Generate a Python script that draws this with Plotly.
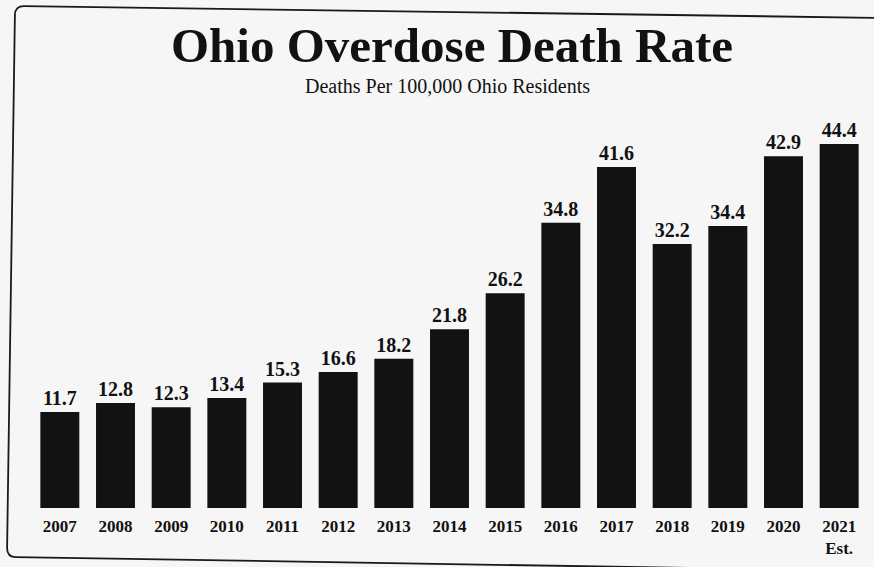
import plotly.graph_objects as go

years = ["2007", "2008", "2009", "2010", "2011", "2012", "2013", "2014",
         "2015", "2016", "2017", "2018", "2019", "2020", "2021"]
tick_labels = ["2007", "2008", "2009", "2010", "2011", "2012", "2013", "2014",
               "2015", "2016", "2017", "2018", "2019", "2020", "2021<br>Est."]
rates = [11.7, 12.8, 12.3, 13.4, 15.3, 16.6, 18.2, 21.8,
         26.2, 34.8, 41.6, 32.2, 34.4, 42.9, 44.4]

W, H = 874, 567
ml, mr, mt, mb = 32, 7, 98, 59
pw, ph = W - ml - mr, H - mt - mb

def pp(x, y):
    return (x - ml) / pw, (H - mb - y) / ph

fig = go.Figure()
fig.add_trace(go.Bar(
    x=years, y=rates,
    marker=dict(color="#121212", line=dict(width=0)),
    text=[f"{v:.1f}" for v in rates],
    textposition="outside",
    textfont=dict(family="Liberation Serif", size=20, color="#111"),
    texttemplate="<b>%{text}</b>",
    cliponaxis=False,
    width=0.7,
))

# slightly tilted rounded frame (scanned page)
r = 9
TL = (15, 6)
TR = (890, 18)
BR = (882, 571)
BL = (7, 557)
pts = [
    pp(TL[0] + r, TL[1] + 0.13),
    pp(*TR), pp(*BR),
    pp(BL[0] + r, BL[1] + 0.13),
    pp(*BL),
    pp(BL[0] + 0.1, BL[1] - r),
    pp(TL[0] - 0.1, TL[1] + r),
    pp(*TL),
]
path = (f"M {pts[0][0]},{pts[0][1]} L {pts[1][0]},{pts[1][1]} L {pts[2][0]},{pts[2][1]} "
        f"L {pts[3][0]},{pts[3][1]} Q {pts[4][0]},{pts[4][1]} {pts[5][0]},{pts[5][1]} "
        f"L {pts[6][0]},{pts[6][1]} Q {pts[7][0]},{pts[7][1]} {pts[0][0]},{pts[0][1]}")
fig.add_shape(type="path", path=path, xref="paper", yref="paper",
              line=dict(color="#1a1a1a", width=1.8), layer="below")

tx, ty = pp(452, 45)
fig.add_annotation(text="<b>Ohio Overdose Death Rate</b>", x=tx, y=ty,
                   xref="paper", yref="paper", showarrow=False,
                   font=dict(family="Liberation Serif", size=49, color="#111"),
                   xanchor="center", yanchor="middle")
sx, sy = pp(447, 86)
fig.add_annotation(text="Deaths Per 100,000 Ohio Residents", x=sx, y=sy,
                   xref="paper", yref="paper", showarrow=False,
                   font=dict(family="Liberation Serif", size=20, color="#111"),
                   xanchor="center", yanchor="middle")

fig.update_layout(
    width=W, height=H,
    margin=dict(l=ml, r=mr, t=mt, b=mb),
    paper_bgcolor="#f6f6f6", plot_bgcolor="#f6f6f6",
    showlegend=False,
    bargap=0.3,
)
fig.update_xaxes(
    tickmode="array", tickvals=years, ticktext=[f"<b>{t}</b>" for t in tick_labels],
    tickfont=dict(family="Liberation Serif", size=17, color="#111"),
    showgrid=False, showline=False, zeroline=False, ticks="",
    ticklabelstandoff=6,
    range=[-0.5, 14.5],
)
fig.update_yaxes(range=[0, 50], visible=False, showgrid=False)

fig.write_html("out.html")
